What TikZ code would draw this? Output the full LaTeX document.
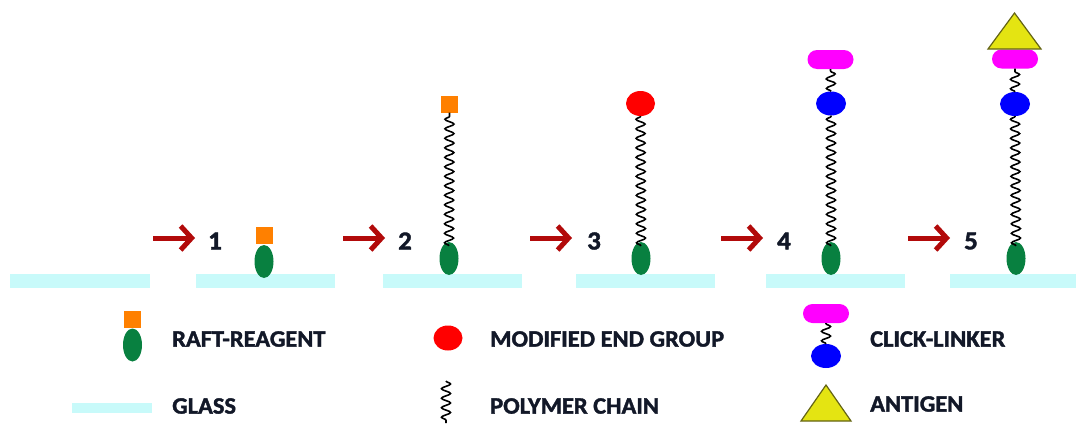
\documentclass[tikz,border=0pt]{standalone}
\usepackage{fontspec}
\setmainfont{Carlito}[FakeBold=1.6,FakeStretch=1.04]
\usetikzlibrary{decorations.pathmorphing,shapes.geometric,arrows.meta,calc}

\definecolor{glasscol}{RGB}{200,250,250}
\definecolor{raftgreen}{RGB}{8,128,64}
\definecolor{ctaorange}{RGB}{255,128,0}
\definecolor{endred}{RGB}{255,0,0}
\definecolor{azideblue}{RGB}{0,0,255}
\definecolor{linkmag}{RGB}{255,0,255}
\definecolor{agfill}{RGB}{228,228,18}
\definecolor{agline}{RGB}{100,100,20}
\definecolor{arrowred}{RGB}{178,10,10}
\definecolor{ink}{RGB}{18,24,40}

\tikzset{
  glass/.style={rectangle, fill=glasscol, draw=none, minimum height=14pt, inner sep=0pt},
  raft/.style={ellipse, fill=raftgreen, minimum width=19pt, minimum height=33pt, inner sep=0pt},
  cta/.style={rectangle, fill=ctaorange, minimum size=17pt, inner sep=0pt},
  endgrp/.style={ellipse, fill=endred, minimum width=29pt, minimum height=25pt, inner sep=0pt},
  azide/.style={ellipse, fill=azideblue, minimum width=30pt, minimum height=24pt, inner sep=0pt},
  linker/.style={rectangle, rounded corners=9.5pt, fill=linkmag, minimum width=46pt, minimum height=19pt, inner sep=0pt},
  antigen/.style={fill=agfill, draw=agline, line width=1.2pt, line join=miter},
  chain/.style={decorate, decoration={snake, segment length=9.5pt, amplitude=4.5pt}, line width=1.6pt, draw=black},
  legendtext/.style={font=\fontsize{23.5}{26}\selectfont\bfseries, text=ink, anchor=west, inner sep=0pt},
  stepnum/.style={font=\fontsize{26}{28}\selectfont\bfseries, text=ink, inner sep=0pt},
  reaction/.style={draw=arrowred, line width=5pt, -{Straight Barb[length=11pt, width=24pt]}}
}

\begin{document}
\begin{tikzpicture}[x=1pt, y=-1pt]
\useasboundingbox (0,0) rectangle (1078,423);

% glass slides
\node[glass, minimum width=140pt] (s0) at (80,280.5) {};
\node[glass, minimum width=139pt] (s1) at (265.5,280.5) {};
\node[glass, minimum width=139pt] (s2) at (452.5,280.5) {};
\node[glass, minimum width=139pt] (s3) at (645.5,280.5) {};
\node[glass, minimum width=139pt] (s4) at (835.5,280.5) {};
\node[glass, minimum width=126pt] (s5) at (1013,280.5) {};

% reaction arrows and step numbers
\foreach \i/\xa/\xn in {1/153/215, 2/343/405, 3/530/594, 4/721/784, 5/908/971} {
  \coordinate (a\i) at (\xa,238);
  \coordinate (b\i) at (\xa+42,238);
  \draw[reaction] (a\i) -- (b\i);
  \node[stepnum] (n\i) at (\xn,241) {\i};
}

% step 1: RAFT reagent on glass
\node[raft] (g1) at (264,261.5) {};
\node[cta] (c1) at (264.5,235.5) {};

% step 2: grown polymer chain
\node[raft] (g2) at (449,258.5) {};
\node[cta] (c2) at (449.5,104) {};
\draw[chain] ($(g2.north)+(0,4)$) -- (c2.south);

% step 3: modified end group
\node[raft] (g3) at (641,258.5) {};
\node[endgrp] (e3) at (640.5,103.5) {};
\draw[chain] ($(g3.north)+(0,4)$) -- (e3.south);

% step 4: click linker attached
\node[raft] (g4) at (831,258.5) {};
\node[azide] (z4) at (831,103.5) {};
\node[linker] (k4) at (830.5,59.5) {};
\draw[chain] ($(g4.north)+(0,4)$) -- (z4.south);
\draw[chain] (z4.north) -- (k4.south);

% step 5: antigen bound
\node[raft] (g5) at (1016,258.5) {};
\node[azide] (z5) at (1015,104) {};
\node[linker] (k5) at (1015,59) {};
\draw[chain] ($(g5.north)+(0,4)$) -- (z5.south);
\draw[chain] (z5.north) -- (k5.south);
\coordinate (t5l) at (988,49);
\coordinate (t5r) at (1041,49);
\coordinate (t5a) at (1014.5,13);
\draw[antigen] (t5l) -- (t5r) -- (t5a) -- cycle;

% legend
\node[raft] (lg) at (132.5,345) {};
\node[cta] (lc) at (132.5,319.5) {};
\node[legendtext] (lraft) at (172,339) {RAFT-REAGENT};

\node[glass, minimum width=80pt, minimum height=10pt] (lglass) at (112,408) {};
\node[legendtext] (lglasst) at (172,406) {GLASS};

\node[endgrp] (le) at (448,338) {};
\node[legendtext] (lend) at (490,339) {MODIFIED END GROUP};

\coordinate (lw1) at (446,381);
\coordinate (lw2) at (446,423);
\draw[chain] (lw1) -- (lw2);
\node[legendtext] (lpoly) at (490,406) {POLYMER CHAIN};

\node[linker] (lk) at (826,313.5) {};
\node[azide] (lz) at (826,356) {};
\draw[chain] (lz.north) -- (lk.south);
\node[legendtext] (lclick) at (870,339) {CLICK-LINKER};

\coordinate (lal) at (801,421);
\coordinate (lar) at (851,421);
\coordinate (laa) at (826,385);
\draw[antigen] (lal) -- (lar) -- (laa) -- cycle;
\node[legendtext] (lag) at (870,404) {ANTIGEN};
\end{tikzpicture}
\end{document}
